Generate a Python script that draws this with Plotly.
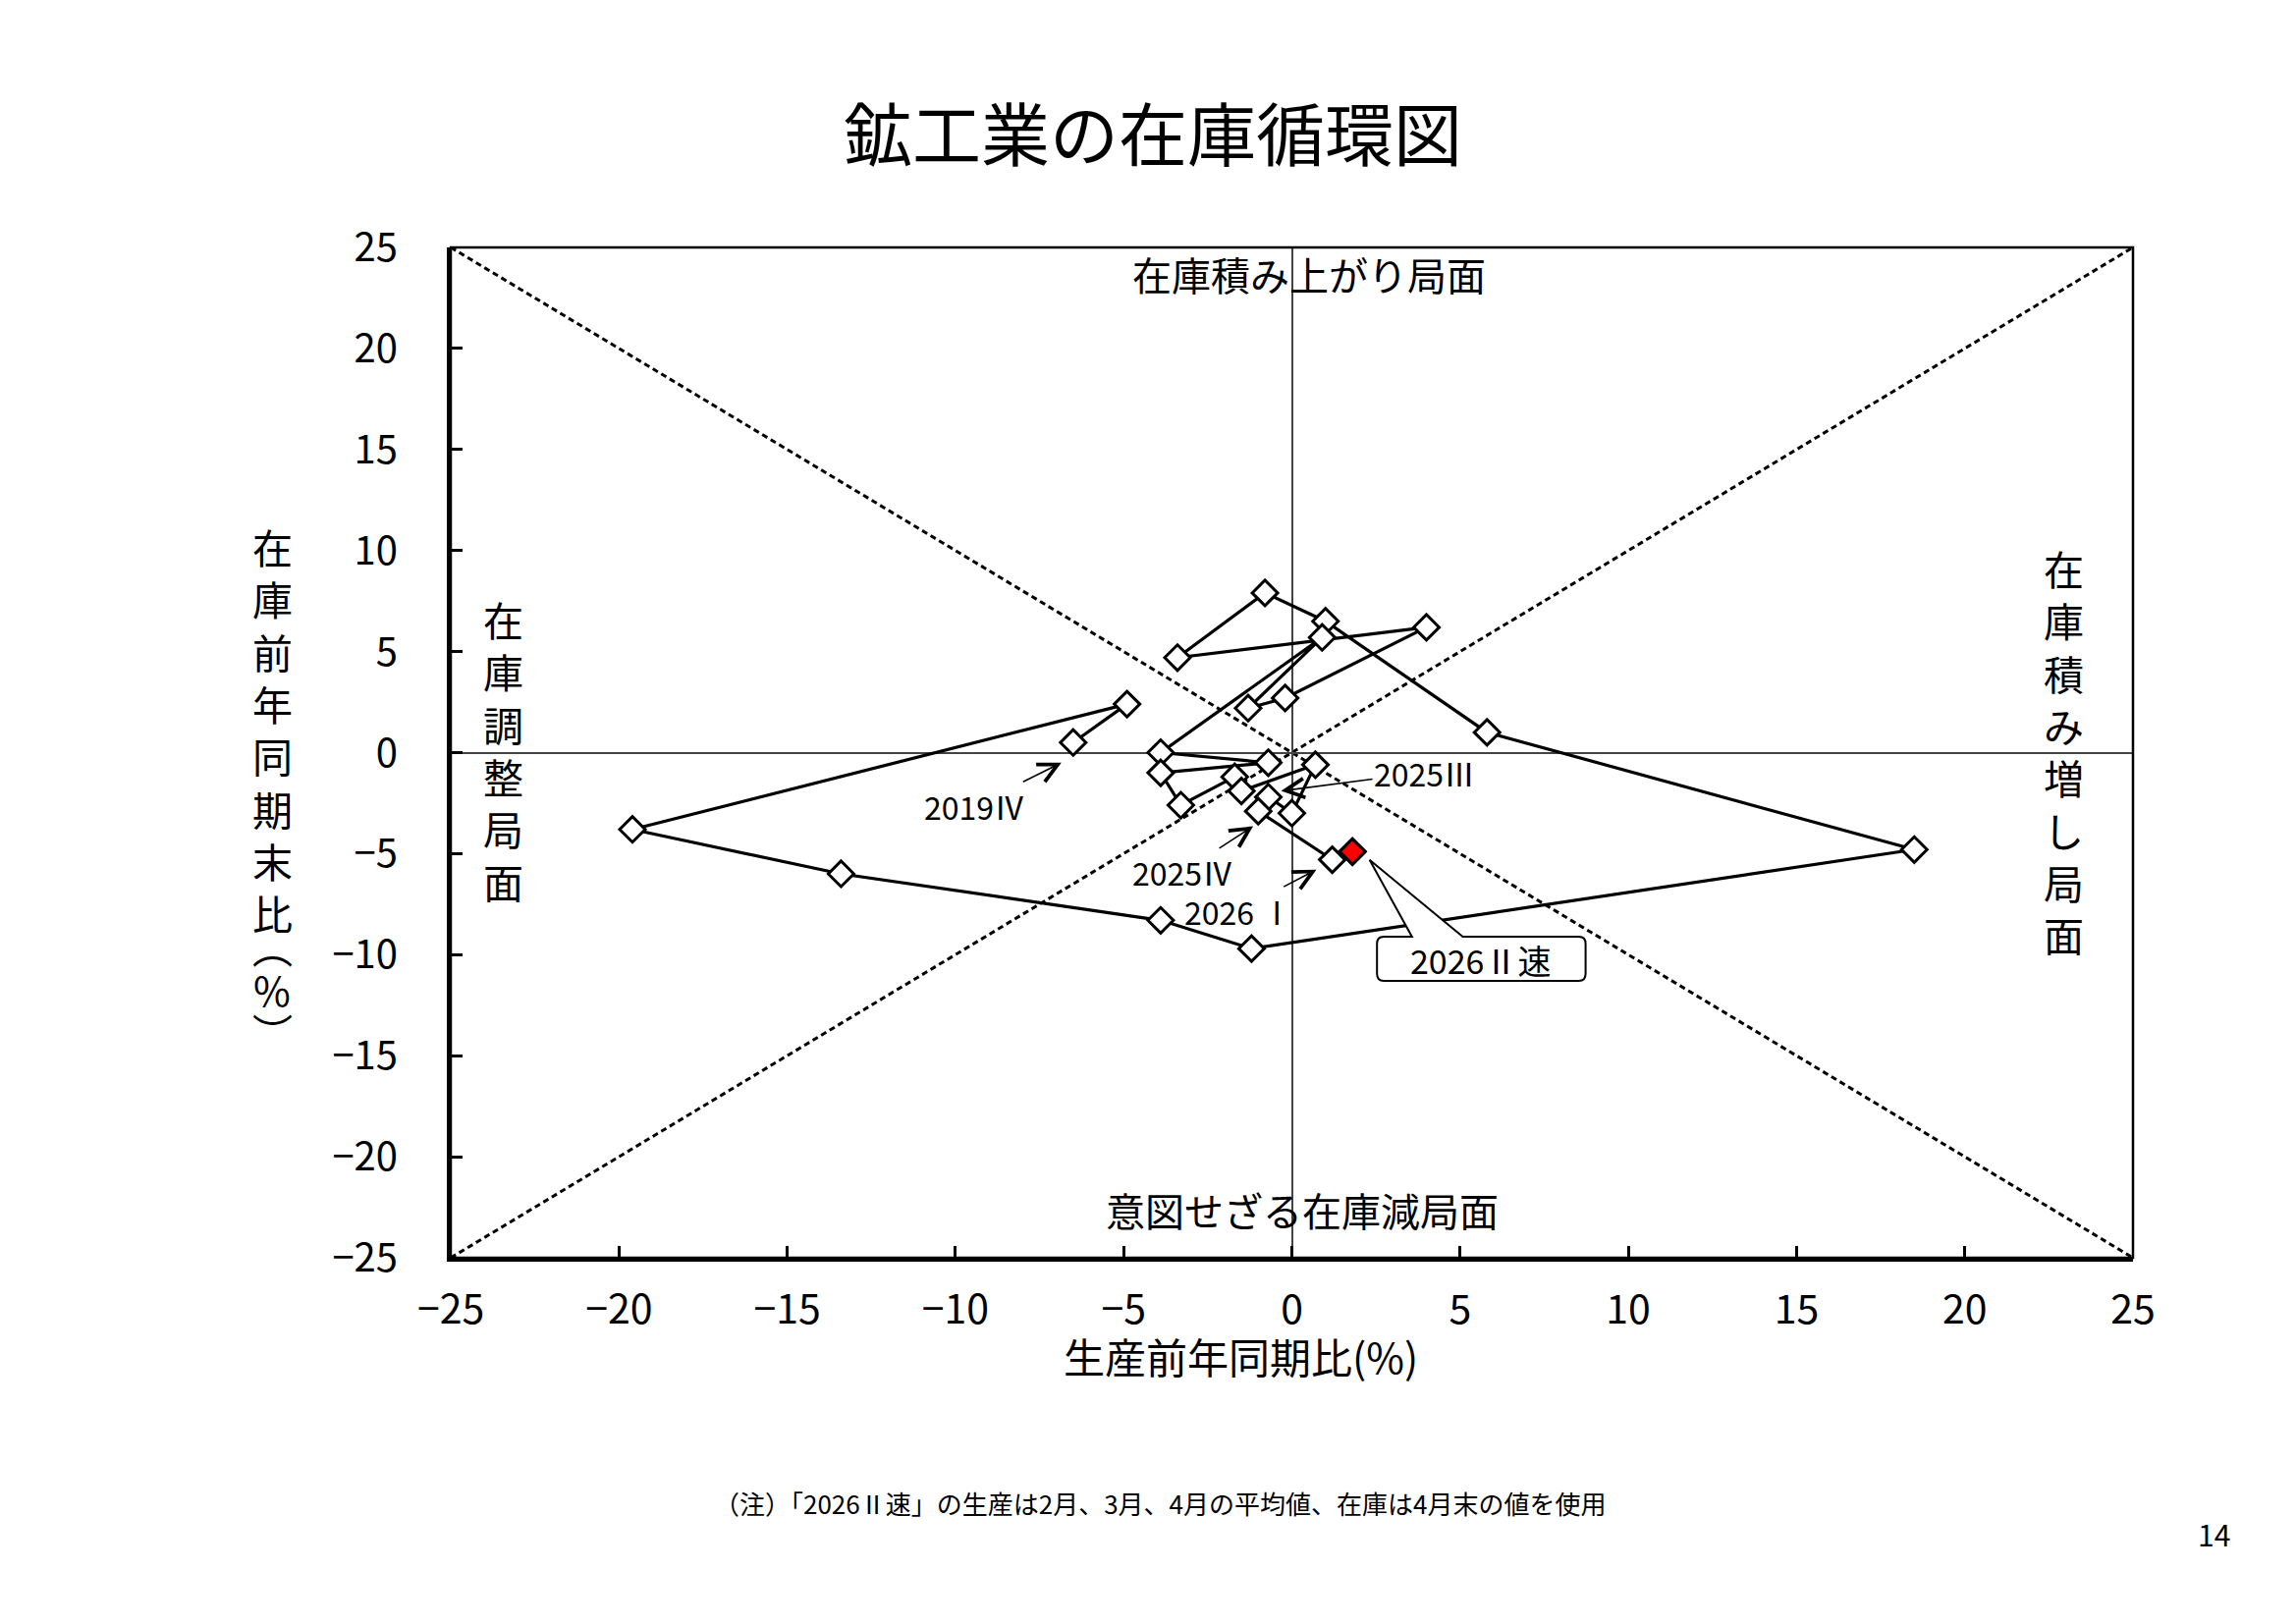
import plotly.graph_objects as go

# 四半期ラベル
periods = [
    "2019Ⅳ",
    "2020Ⅰ", "2020Ⅱ", "2020Ⅲ", "2020Ⅳ",
    "2021Ⅰ", "2021Ⅱ", "2021Ⅲ", "2021Ⅳ",
    "2022Ⅰ", "2022Ⅱ", "2022Ⅲ", "2022Ⅳ",
    "2023Ⅰ", "2023Ⅱ", "2023Ⅲ", "2023Ⅳ",
    "2024Ⅰ", "2024Ⅱ", "2024Ⅲ", "2024Ⅳ",
    "2025Ⅰ", "2025Ⅱ", "2025Ⅲ", "2025Ⅳ",
    "2026Ⅰ", "2026Ⅱ速",
]
# 生産前年同期比(%)
produccion = [
    -6.5,
    -4.9, -19.6, -13.4, -3.9,
    -1.2, 18.5, 5.8, 1.0,
    -0.8, -3.4, 4.0, -0.2,
    -1.3, 0.9, -3.9, -0.7,
    -3.9, -3.3, -1.7, -1.5,
    0.7, 0.0, -0.7, -1.0,
    1.2, 1.8,
]
# 在庫前年同期末比(%)
inventario = [
    0.5,
    2.4, -3.8, -6.0, -8.3,
    -9.7, -4.8, 1.0, 6.5,
    7.9, 4.7, 6.2, 2.7,
    2.2, 5.7, 0.0, -0.5,
    -1.0, -2.6, -1.2, -1.9,
    -0.6, -3.0, -2.2, -2.9,
    -5.3, -4.9,
]

eje_rango = [-25, 25]
eje_ticks = [-25, -20, -15, -10, -5, 0, 5, 10, 15, 20, 25]

FUENTE = "Noto Sans CJK JP"

# 1. dimensiones (la pagina tiene 8px de margen en el body)
OFF = 8
W, H = 2322, 1638
L, T = 459 - OFF, 252 - OFF
R = W - (2172 - OFF)
B = H - (1281 - OFF)


def px_x(px):
    # pixel de la captura -> coordenada paper
    return (px - OFF - L) / (W - L - R)


def px_y(py):
    return (H - B - (py - OFF)) / (H - T - B)


fig = go.Figure()

# 2. curva del ciclo
fig.add_trace(go.Scatter(
    x=produccion, y=inventario, text=periods,
    mode="lines+markers",
    line=dict(color="black", width=3.2),
    marker=dict(symbol="diamond", size=20, color="white",
                line=dict(color="black", width=3)),
    hoverinfo="text+x+y", showlegend=False,
))
# ultimo punto (速報) en rojo
fig.add_trace(go.Scatter(
    x=produccion[-1:], y=inventario[-1:], text=periods[-1:],
    mode="markers",
    marker=dict(symbol="diamond", size=20, color="#ff0000",
                line=dict(color="black", width=3)),
    hoverinfo="text+x+y", showlegend=False,
))

# 3. diagonales punteadas y marco
shapes = [
    dict(type="line", xref="x", yref="y", x0=-25, y0=25, x1=25, y1=-25,
         line=dict(color="black", width=3, dash="6px,4px"), layer="below"),
    dict(type="line", xref="x", yref="y", x0=-25, y0=-25, x1=25, y1=25,
         line=dict(color="black", width=3, dash="6px,4px"), layer="below"),
    dict(type="rect", xref="paper", yref="paper", x0=0, y0=0, x1=1, y1=1,
         line=dict(color="black", width=2.5), layer="above"),
]

# globo del ultimo dato
bx0, bx1, by0, by1 = 2.53, 8.73, -11.3, -9.11
rx, ry = 0.2, 0.35
tip = (2.31, -5.31)
path = (f"M{bx0+rx},{by1} L3.57,{by1} L{tip[0]},{tip[1]} L5.08,{by1} "
        f"L{bx1-rx},{by1} Q{bx1},{by1} {bx1},{by1-ry} L{bx1},{by0+ry} "
        f"Q{bx1},{by0} {bx1-rx},{by0} L{bx0+rx},{by0} Q{bx0},{by0} {bx0},{by0+ry} "
        f"L{bx0},{by1-ry} Q{bx0},{by1} {bx0+rx},{by1} Z")
shapes.append(dict(type="path", xref="x", yref="y", path=path,
                   fillcolor="white", line=dict(color="black", width=2),
                   layer="above"))


def vertical(texto):
    return "<br>".join(list(texto))


def texto(t, x, y, size, ref="paper"):
    return dict(text=t, xref=ref if ref == "paper" else "x",
                yref=ref if ref == "paper" else "y", x=x, y=y,
                xanchor="center", yanchor="middle", showarrow=False,
                font=dict(size=size, color="black"))


anotaciones = [
    # titulo
    texto("鉱工業の在庫循環図", px_x(1174), px_y(133), 70),
    # titulos de ejes
    texto("生産前年同期比(%)", px_x(1263), px_y(1380), 42),
    texto(vertical("在庫前年同期末比"), px_x(277), px_y(742), 41),
    # parentesis verticales, mas juntos que el resto
    texto("︵", px_x(277), px_y(963), 41),
    texto("%", px_x(277), px_y(1007), 41),
    texto("︶", px_x(277), px_y(1050), 41),
    # fases
    texto("在庫積み上がり局面", 0.5, 23.7, 40, ref="data"),
    texto("意図せざる在庫減局面", 0.3, -22.6, 40, ref="data"),
    texto(vertical("在庫調整局面"), -23.43, 0.15, 41, ref="data"),
    texto(vertical("在庫積み増し局面"), 22.95, 0.1, 41, ref="data"),
    # globo
    texto("2026Ⅱ速", 5.6, -10.26, 34, ref="data"),
    # nota y pagina
    texto("（注）「2026Ⅱ速」の生産は2月、3月、4月の平均値、在庫は4月末の値を使用",
          px_x(1181), px_y(1530), 26),
    texto("14", px_x(2254), px_y(1562), 30),
]

# etiquetas con flecha (punta en datos, texto desplazado en pixeles)
flechas = [
    ("2019Ⅳ", -6.85, -0.5, -88, 44),
    ("2025Ⅲ", -0.32, -1.9, 146, -19),
    ("2025Ⅳ", -1.15, -3.64, -72, 47),
    ("2026 Ⅰ", 0.73, -5.79, -80, 42),
]
for txt, xt, yt, ax, ay in flechas:
    anotaciones.append(dict(
        text=txt, xref="x", yref="y", x=xt, y=yt, ax=ax, ay=ay,
        xanchor="center", yanchor="middle",
        showarrow=True, arrowhead=5, arrowsize=2.4, arrowwidth=1.6,
        arrowcolor="black", standoff=0,
        font=dict(size=32, color="black"),
    ))

ejes = dict(
    range=eje_rango, tickvals=eje_ticks, ticks="inside", ticklen=12,
    tickwidth=2.5, tickcolor="black", showline=True, linewidth=4,
    linecolor="black", showgrid=False, zeroline=True, zerolinecolor="#444",
    zerolinewidth=1.5, fixedrange=True,
)

fig.update_layout(
    width=W, height=H,
    margin=dict(l=L, r=R, t=T, b=B, pad=0),
    paper_bgcolor="white", plot_bgcolor="white",
    font=dict(family=FUENTE, color="black"),
    xaxis=dict(**ejes, ticklabelstandoff=14, tickfont=dict(size=41, color="black")),
    yaxis=dict(**ejes, ticklabelstandoff=42, tickfont=dict(size=40, color="black")),
    shapes=shapes,
    annotations=anotaciones,
    showlegend=False,
)

fig.write_html("out.html")
